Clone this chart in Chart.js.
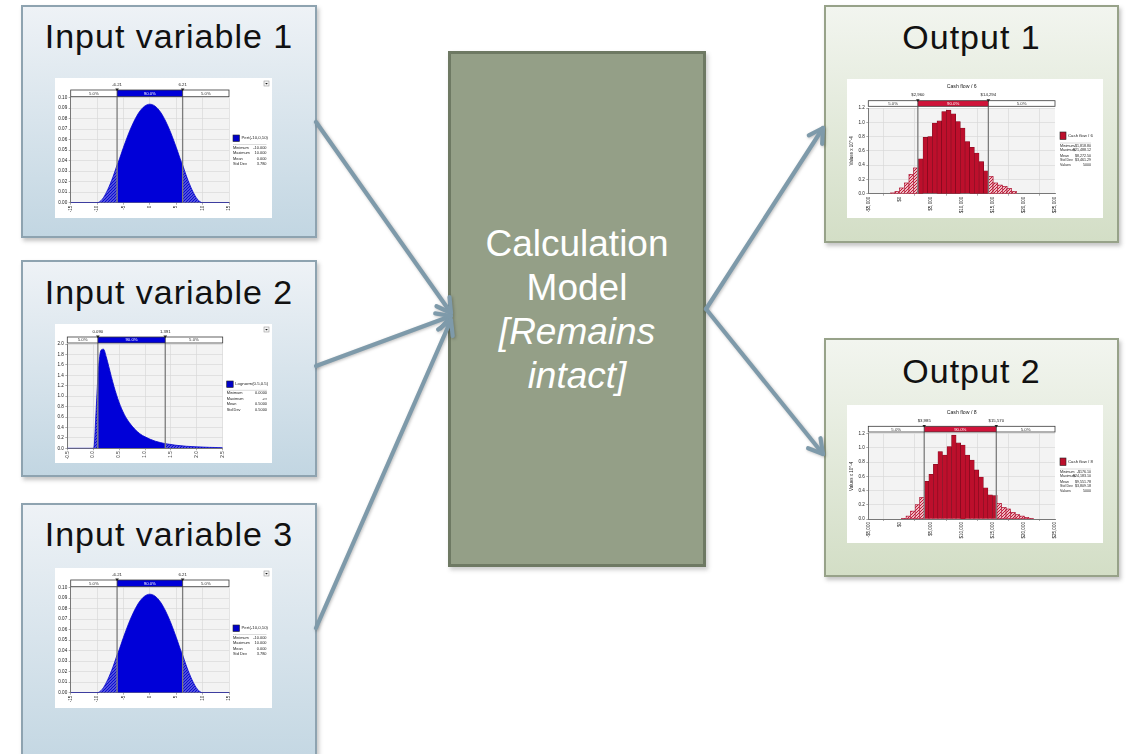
<!DOCTYPE html>
<html>
<head>
<meta charset="utf-8">
<title>Simulation flow</title>
<script src="https://cdn.jsdelivr.net/npm/chart.js@4.4.1/dist/chart.umd.min.js"></script>
<style>
  html, body { margin: 0; padding: 0; background: #fff; }
  body { width: 1128px; height: 754px; position: relative; overflow: hidden; font-family: "Liberation Sans", Arial, sans-serif; }
  .box { position: absolute; box-sizing: border-box; }
  .input { border: 2px solid #8ea3b0; background: linear-gradient(to bottom, #eef2f6, #c2d6e2); box-shadow: 2px 3px 4px rgba(60,60,60,.3); }
  .output { border: 2px solid #97a289; background: linear-gradient(to bottom, #f2f5ef, #d3dec6); box-shadow: 2px 3px 4px rgba(60,60,60,.3); }
  .title { position: absolute; left: 0; right: 0; text-align: center; font-size: 34px; line-height: 34px; letter-spacing: 1px; color: #111; white-space: nowrap; }
  .panel { position: absolute; background: #fff; }
  .panel canvas { display: block; }
  #model { position: absolute; left: 448px; top: 51px; width: 258px; height: 516px; box-sizing: border-box; background: #949f87; border: 3px solid #6e7963; color: #fff; box-shadow: 2px 3px 4px rgba(60,60,60,.25); }
  #model .txt { position: absolute; left: 0; right: 0; top: 168px; text-align: center; font-size: 37px; line-height: 44px; }
  #model .txt i { font-style: italic; }
  #arrows { position: absolute; left: 0; top: 0; }
</style>
</head>
<body>

<div class="box input" style="left:21px; top:5px; width:296px; height:233px;">
  <div class="title" style="top:12px;">Input variable 1</div>
</div>
<div class="box input" style="left:21px; top:260px; width:296px; height:217px;">
  <div class="title" style="top:13px;">Input variable 2</div>
</div>
<div class="box input" style="left:21px; top:503px; width:296px; height:270px;">
  <div class="title" style="top:12px;">Input variable 3</div>
</div>

<div id="model"><div class="txt">Calculation<br>Model<br><i>[Remains<br>intact]</i></div></div>

<div class="box output" style="left:824px; top:5px; width:295px; height:238px;">
  <div class="title" style="top:13px;">Output 1</div>
</div>
<div class="box output" style="left:824px; top:338px; width:295px; height:239px;">
  <div class="title" style="top:14px;">Output 2</div>
</div>

<div class="panel" style="left:55px; top:78px;"><canvas id="in1" width="217" height="140"></canvas></div>
<div class="panel" style="left:55px; top:324px;"><canvas id="in2" width="217" height="139"></canvas></div>
<div class="panel" style="left:55px; top:568px;"><canvas id="in3" width="217" height="140"></canvas></div>
<div class="panel" style="left:847px; top:79px;"><canvas id="out1" width="256" height="139"></canvas></div>
<div class="panel" style="left:847px; top:405px;"><canvas id="out2" width="256" height="138"></canvas></div>

<svg id="arrows" width="1128" height="754"></svg>

<script>
// ---------- PERT(-10, 0, 10) density (inputs 1 and 3) ----------
const pertX       = [-15, -10, -9, -8, -7, -6.21, -6, -5, -4, -3, -2, -1, 0, 1, 2, 3, 4, 5, 6, 6.21, 7, 8, 9, 10, 15];
const pertDensity = [0, 0, 0.0034, 0.0122, 0.0244, 0.0360, 0.0384, 0.0527, 0.0662, 0.0776, 0.0864, 0.0919, 0.0938,
                     0.0919, 0.0864, 0.0776, 0.0662, 0.0527, 0.0384, 0.0360, 0.0244, 0.0122, 0.0034, 0, 0];
const pertCut          = [-6.21, 6.21];
const pertTicksX       = [-15, -10, -5, 0, 5, 10, 15];
const pertTickLabelsX  = ['-15', '-10', '-5', '0', '5', '10', '15'];
const pertTicksY       = [0, 0.01, 0.02, 0.03, 0.04, 0.05, 0.06, 0.07, 0.08, 0.09, 0.10];
const pertTickLabelsY  = ['0.00', '0.01', '0.02', '0.03', '0.04', '0.05', '0.06', '0.07', '0.08', '0.09', '0.10'];
const pertStats        = [['Minimum', '-10.000'], ['Maximum', '10.000'], ['Mean', '0.000'], ['Std Dev', '3.780']];

// ---------- Lognormal(0.5, 0.5) density (input 2) ----------
const lognX       = [-0.5, 0, 0.02, 0.05, 0.09, 0.1, 0.15, 0.2, 0.25, 0.3, 0.4, 0.5, 0.6, 0.7, 0.8, 0.9, 1.0, 1.2, 1.391, 1.6, 1.8, 2.0, 2.25, 2.5];
const lognDensity = [0, 0, 0.06, 0.60, 1.38, 1.52, 1.88, 1.90, 1.76, 1.57, 1.19, 0.88, 0.65, 0.49, 0.37, 0.28, 0.22, 0.136, 0.089, 0.058, 0.039, 0.0275, 0.018, 0.012];
const lognCut          = [0.090, 1.391];
const lognTicksX       = [-0.5, 0, 0.5, 1, 1.5, 2, 2.5];
const lognTickLabelsX  = ['-0.5', '0.0', '0.5', '1.0', '1.5', '2.0', '2.5'];
const lognTicksY       = [0, 0.2, 0.4, 0.6, 0.8, 1.0, 1.2, 1.4, 1.6, 1.8, 2.0];
const lognTickLabelsY  = ['0.0', '0.2', '0.4', '0.6', '0.8', '1.0', '1.2', '1.4', '1.6', '1.8', '2.0'];
const lognStats        = [['Minimum', '0.0000'], ['Maximum', '+\u221E'], ['Mean', '0.5000'], ['Std Dev', '0.5000']];

// ---------- Cash flow / 6 histogram (output 1), values x 10^-4 ----------
const cash6Bins = [-1081, -331, 419, 1169, 1919, 2669, 3419, 4169, 4919, 5669, 6419, 7169, 7919, 8669, 9419,
                   10169, 10919, 11669, 12419, 13169, 13919, 14669, 15419, 16169, 16919, 17669, 18419];
const cash6Freq = [0.01, 0.03, 0.08, 0.15, 0.27, 0.36, 0.49, 0.79, 0.80, 0.99, 1.02, 1.15, 1.17, 1.12, 1.01,
                   0.92, 0.73, 0.65, 0.57, 0.45, 0.32, 0.24, 0.15, 0.12, 0.10, 0.07, 0.03];
const cash6Cut   = [2960, 14294];
const cash6Stats = [['Minimum', '-$1,818.80'], ['Maximum', '$21,488.12'], ['Mean', '$8,272.50'], ['Std Dev', '$3,461.29'], ['Values', '5000']];

// ---------- Cash flow / 8 histogram (output 2), values x 10^-4 ----------
const cash8Bins = [715, 1445, 2175, 2905, 3635, 4365, 5095, 5825, 6555, 7285, 8015, 8745, 9475, 10205, 10935,
                   11665, 12395, 13125, 13855, 14585, 15315, 16045, 16775, 17505, 18235, 18965, 19695, 20425, 21155];
const cash8Freq = [0.01, 0.04, 0.11, 0.20, 0.30, 0.53, 0.63, 0.77, 0.95, 0.90, 1.02, 1.18, 1.07, 1.04, 0.90,
                   0.83, 0.69, 0.59, 0.44, 0.34, 0.33, 0.22, 0.16, 0.14, 0.09, 0.06, 0.04, 0.02, 0.01];
const cash8Cut   = [3985, 15570];
const cash8Stats = [['Minimum', '-$176.10'], ['Maximum', '$24,183.10'], ['Mean', '$9,551.78'], ['Std Dev', '$3,809.18'], ['Values', '5000']];

const cashTicksX      = [-5000, 0, 5000, 10000, 15000, 20000, 25000];
const cashTickLabelsX = ['-$5,000', '$0', '$5,000', '$10,000', '$15,000', '$20,000', '$25,000'];
const cashTicksY      = [0, 0.2, 0.4, 0.6, 0.8, 1.0, 1.2];
const cashTickLabelsY = ['0.0', '0.2', '0.4', '0.6', '0.8', '1.0', '1.2'];

const bandShares = [5.0, 90.0, 5.0];

// ---------- drawing helpers ----------
const FONT = '"Liberation Sans", Arial, sans-serif';
Chart.defaults.font.family = FONT;
Chart.defaults.color = '#222';

function hatch(color, size, width) {
  const c = document.createElement('canvas');
  c.width = c.height = size;
  const g = c.getContext('2d');
  g.fillStyle = '#fff'; g.fillRect(0, 0, size, size);
  g.strokeStyle = color; g.lineWidth = width;
  g.beginPath();
  g.moveTo(0, size); g.lineTo(size, 0);
  g.moveTo(-1, 1); g.lineTo(1, -1);
  g.moveTo(size - 1, size + 1); g.lineTo(size + 1, size - 1);
  g.stroke();
  return g.createPattern(c, 'repeat');
}

const money = v => (v < 0 ? '-' : '') + '$' + Math.abs(v).toLocaleString('en-US');

function axisFrom(ticks, labels, extra) {
  return Object.assign({
    type: 'linear', min: ticks[0], max: ticks[ticks.length - 1],
    afterBuildTicks: s => { s.ticks = ticks.map(v => ({ value: v })); },
    grid: { color: '#d9d9d9', lineWidth: 0.7, tickLength: 2, tickColor: '#888' },
    border: { color: '#777', width: 1 }
  }, extra, {
    ticks: Object.assign({ callback: (v, i) => labels[i], autoSkip: false }, extra.ticks)
  });
}

function makeOverlay(cfg) {
  const L = cfg.layout;
  return {
    id: 'simOverlay',
    beforeDraw(chart) {
      const { ctx, chartArea: a } = chart;
      ctx.save();
      ctx.fillStyle = '#f3f3f3';
      ctx.fillRect(a.left, a.top, a.right - a.left, a.bottom - a.top);
      ctx.restore();
    },
    afterDatasetsDraw(chart) {
      if (!cfg.tailFill) return;
      const { ctx, chartArea: a, scales: { x } } = chart;
      const lo = x.getPixelForValue(cfg.cut[0]), hi = x.getPixelForValue(cfg.cut[1]);
      ctx.save();
      ctx.beginPath();
      ctx.rect(a.left, a.top, lo - a.left, a.bottom - a.top);
      ctx.rect(hi, a.top, a.right - hi, a.bottom - a.top);
      ctx.clip();
      chart.getDatasetMeta(0).data.forEach(bar => {
        const p = bar.getProps(['x', 'y', 'base', 'width'], true);
        const l = p.x - p.width / 2, t = Math.min(p.y, p.base), h = Math.abs(p.base - p.y);
        ctx.fillStyle = '#fff'; ctx.fillRect(l, t, p.width, h);
        ctx.fillStyle = cfg.tailFill; ctx.fillRect(l, t, p.width, h);
        ctx.strokeStyle = cfg.tailEdge; ctx.lineWidth = 0.6; ctx.strokeRect(l, t, p.width, h);
      });
      ctx.restore();
    },
    afterDraw(chart) {
      const { ctx, chartArea: a, scales: { x }, width: W } = chart;
      const lo = x.getPixelForValue(cfg.cut[0]), hi = x.getPixelForValue(cfg.cut[1]);
      const bBot = a.top - L.barGap, bTop = bBot - L.barH;
      ctx.save();
      // percentile guide lines
      ctx.strokeStyle = '#7c7c7c'; ctx.lineWidth = 1.3;
      for (const px of [lo, hi]) { ctx.beginPath(); ctx.moveTo(px, bBot); ctx.lineTo(px, a.bottom); ctx.stroke(); }
      // percentile band
      ctx.fillStyle = '#fff'; ctx.fillRect(a.left, bTop, a.right - a.left, L.barH);
      ctx.fillStyle = cfg.bandColor; ctx.fillRect(lo, bTop, hi - lo, L.barH);
      ctx.strokeStyle = '#3a3a3a'; ctx.lineWidth = 0.8;
      ctx.strokeRect(a.left, bTop, a.right - a.left, L.barH);
      ctx.beginPath(); ctx.moveTo(lo, bTop); ctx.lineTo(lo, bBot); ctx.moveTo(hi, bTop); ctx.lineTo(hi, bBot); ctx.stroke();
      ctx.font = `${L.small}px ${FONT}`;
      ctx.textAlign = 'center'; ctx.textBaseline = 'middle';
      const my = (bTop + bBot) / 2 + 0.3;
      const share = bandShares.map(s => s.toFixed(1) + '%');
      ctx.fillStyle = '#333';
      ctx.fillText(share[0], (a.left + lo) / 2, my);
      ctx.fillText(share[2], (hi + a.right) / 2, my);
      ctx.fillStyle = '#fff';
      ctx.fillText(share[1], (lo + hi) / 2, my);
      // cut markers with their values
      ctx.fillStyle = '#222';
      [lo, hi].forEach((px, i) => {
        ctx.beginPath(); ctx.moveTo(px - 1.8, bTop - 1.4); ctx.lineTo(px + 1.8, bTop - 1.4); ctx.lineTo(px, bTop + 1.2); ctx.closePath(); ctx.fill();
        ctx.fillText(cfg.cutLabel(cfg.cut[i]), px, L.labelY);
      });
      // chart title
      if (cfg.title) {
        ctx.font = `${L.titleSize}px ${FONT}`;
        ctx.fillText(cfg.title, (a.left + a.right) / 2, L.titleY);
      }
      // legend swatch and statistics
      const sx = a.right + L.legendDx;
      ctx.fillStyle = cfg.swatch; ctx.fillRect(sx, L.swatchY, L.swatchW, L.swatchH);
      ctx.strokeStyle = '#222'; ctx.lineWidth = 0.6; ctx.strokeRect(sx, L.swatchY, L.swatchW, L.swatchH);
      ctx.font = `${L.small}px ${FONT}`;
      ctx.fillStyle = '#222'; ctx.textAlign = 'left';
      ctx.fillText(cfg.legend, sx + L.swatchW + 2, L.swatchY + L.swatchH / 2);
      ctx.strokeStyle = '#c4c4c4'; ctx.lineWidth = 0.6;
      ctx.beginPath(); ctx.moveTo(sx, L.rows[0] - 3); ctx.lineTo(L.valueX, L.rows[0] - 3); ctx.stroke();
      ctx.font = `${L.stat}px ${FONT}`;
      cfg.stats.forEach(([k, v], i) => {
        ctx.textAlign = 'left'; ctx.fillText(k, sx, L.rows[i]);
        ctx.textAlign = 'right'; ctx.fillText(v, L.valueX, L.rows[i]);
      });
      // drop-down button
      if (cfg.dropdown) {
        const bx = W - 8, by = 3;
        ctx.fillStyle = '#f4f4f4'; ctx.fillRect(bx, by, 5, 5);
        ctx.strokeStyle = '#999'; ctx.strokeRect(bx, by, 5, 5);
        ctx.fillStyle = '#111';
        ctx.beginPath(); ctx.moveTo(bx + 1.2, by + 2); ctx.lineTo(bx + 3.8, by + 2); ctx.lineTo(bx + 2.5, by + 3.6); ctx.closePath(); ctx.fill();
      }
      ctx.restore();
    }
  };
}

function baseOptions(cfg, yExtra) {
  const L = cfg.layout;
  return {
    responsive: false, animation: false, events: [],
    layout: { padding: { top: L.padTop, right: L.padRight, left: 0, bottom: 0 } },
    plugins: { legend: { display: false }, tooltip: { enabled: false } },
    scales: {
      x: axisFrom(cfg.ticksX, cfg.labelsX, {
        offset: false,
        afterFit: s => { s.height = L.xH; },
        ticks: { minRotation: 90, maxRotation: 90, padding: 1, font: { size: L.tick } }
      }),
      y: axisFrom(cfg.ticksY, cfg.labelsY, Object.assign({
        afterFit: s => { s.width = L.yW; },
        ticks: { padding: 1.5, font: { size: L.tick } }
      }, yExtra || {}))
    }
  };
}

function densityChart(id, cfg) {
  const pts = cfg.xs.map((x, i) => ({ x, y: cfg.ys[i] }));
  const [lo, hi] = cfg.cut;
  const tailPattern = hatch('#0a0ad0', 3, 1.7);
  const part = (data, bg) => ({
    data, backgroundColor: bg, borderColor: '#0000cc', borderWidth: 0.8,
    fill: 'origin', pointRadius: 0, cubicInterpolationMode: 'monotone'
  });
  return new Chart(document.getElementById(id), {
    type: 'line',
    data: { datasets: [
      part(pts.filter(p => p.x <= lo), tailPattern),
      part(pts.filter(p => p.x >= lo && p.x <= hi), '#0000d8'),
      part(pts.filter(p => p.x >= hi), tailPattern)
    ] },
    options: baseOptions(cfg),
    plugins: [makeOverlay(cfg)]
  });
}

function histChart(id, cfg) {
  return new Chart(document.getElementById(id), {
    type: 'bar',
    data: { datasets: [{
      data: cfg.bins.map((x, i) => ({ x, y: cfg.freq[i] })),
      backgroundColor: '#bd0f2c', borderColor: '#7c0a1d', borderWidth: 0.6,
      barPercentage: 1, categoryPercentage: 1
    }] },
    options: baseOptions(cfg, { title: { display: true, text: 'Values x 10^-4', font: { size: 4.5 }, padding: { top: 2, bottom: 0 } } }),
    plugins: [makeOverlay(Object.assign({ tailFill: hatch('#c0102e', 3, 1.1), tailEdge: '#b01030' }, cfg))]
  });
}

const inputLayout = {
  padTop: 19.7, padRight: 43, yW: 15.7, xH: 15.3, barH: 6.7, barGap: 1, labelY: 7,
  tick: 4.6, small: 4.3, stat: 3.9, legendDx: 4, swatchY: 57, swatchW: 6.5, swatchH: 6.5,
  rows: [69.5, 75, 80.5, 86], valueX: 211.5
};
const outputLayout = {
  padTop: 29, padRight: 48, yW: 21.3, xH: 24.3, barH: 5.6, barGap: 1.7, labelY: 15.7, titleY: 8, titleSize: 5.2,
  tick: 4.6, small: 4.3, stat: 3.6, legendDx: 5, swatchY: 53, swatchW: 6, swatchH: 7.5,
  rows: [67, 71.3, 76.5, 80.8, 86], valueX: 244
};

const pertCfg = {
  xs: pertX, ys: pertDensity, cut: pertCut, cutLabel: v => v.toFixed(2),
  ticksX: pertTicksX, labelsX: pertTickLabelsX, ticksY: pertTicksY, labelsY: pertTickLabelsY,
  bandColor: '#0000d8', swatch: '#0000c8', legend: 'Pert(-10,0,10)', stats: pertStats, dropdown: true,
  layout: inputLayout
};
densityChart('in1', pertCfg);
densityChart('in3', pertCfg);

densityChart('in2', {
  xs: lognX, ys: lognDensity, cut: lognCut, cutLabel: v => v.toFixed(3),
  ticksX: lognTicksX, labelsX: lognTickLabelsX, ticksY: lognTicksY, labelsY: lognTickLabelsY,
  bandColor: '#0000d8', swatch: '#0000c8', legend: 'Lognorm(0.5,0.5)', stats: lognStats, dropdown: true,
  layout: Object.assign({}, inputLayout, { padTop: 20, padRight: 49.3, yW: 12.3, xH: 14.7, barH: 6, labelY: 8, rows: [69.3, 75, 80.3, 85.5], valueX: 212 })
});

histChart('out1', {
  bins: cash6Bins, freq: cash6Freq, cut: cash6Cut, cutLabel: money,
  ticksX: cashTicksX, labelsX: cashTickLabelsX, ticksY: cashTicksY, labelsY: cashTickLabelsY,
  bandColor: '#d0143a', swatch: '#bd0f2c', title: 'Cash flow / 6', legend: 'Cash flow / 6', stats: cash6Stats,
  layout: outputLayout
});
histChart('out2', {
  bins: cash8Bins, freq: cash8Freq, cut: cash8Cut, cutLabel: money,
  ticksX: cashTicksX, labelsX: cashTickLabelsX, ticksY: cashTicksY, labelsY: cashTickLabelsY,
  bandColor: '#d0143a', swatch: '#bd0f2c', title: 'Cash flow / 8', legend: 'Cash flow / 8', stats: cash8Stats,
  layout: Object.assign({}, outputLayout, { padTop: 28.7, xH: 24, barH: 5.7 })
});

// ---------- connector arrows ----------
const svg = document.getElementById('arrows');
const NS = 'http://www.w3.org/2000/svg';
const links = [
  [316, 122, 451, 313], [316, 366, 451, 316], [316, 628, 451, 320],
  [706, 309, 823, 128], [706, 309, 823, 454]
];
const g = document.createElementNS(NS, 'g');
g.setAttribute('stroke', '#7e9aaa'); g.setAttribute('stroke-width', '4.2');
g.setAttribute('fill', 'none'); g.setAttribute('stroke-linecap', 'round'); g.setAttribute('stroke-linejoin', 'round');
g.setAttribute('style', 'filter: drop-shadow(1px 1.5px 1.5px rgba(0,0,0,0.25))');
links.forEach(([x1, y1, x2, y2]) => {
  const ang = Math.atan2(y2 - y1, x2 - x1), len = 16, spread = 0.52;
  const wing = s => `${x2 - len * Math.cos(ang + s)},${y2 - len * Math.sin(ang + s)}`;
  const line = document.createElementNS(NS, 'line');
  line.setAttribute('x1', x1); line.setAttribute('y1', y1); line.setAttribute('x2', x2); line.setAttribute('y2', y2);
  const head = document.createElementNS(NS, 'polyline');
  head.setAttribute('points', `${wing(spread)} ${x2},${y2} ${wing(-spread)}`);
  g.appendChild(line); g.appendChild(head);
});
svg.appendChild(g);
</script>
</body>
</html>
